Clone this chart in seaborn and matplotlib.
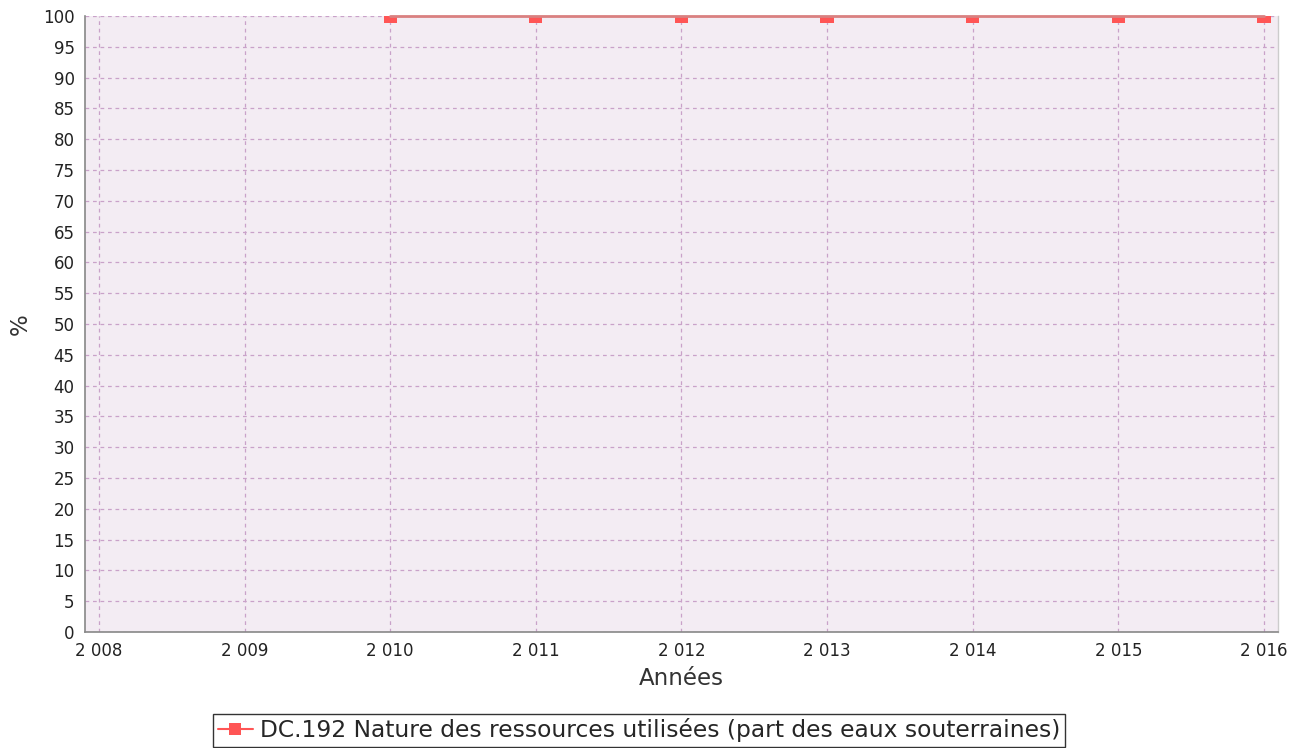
import matplotlib
matplotlib.use("Agg")
import matplotlib.pyplot as plt
import seaborn as sns
import pandas as pd
from matplotlib.lines import Line2D

years = [2010, 2011, 2012, 2013, 2014, 2015, 2016]
values = [100, 100, 100, 100, 100, 100, 100]
series_name = "DC.192 Nature des ressources utilisées (part des eaux souterraines)"
x_ticks = [2008, 2009, 2010, 2011, 2012, 2013, 2014, 2015, 2016]
x_tick_labels = ["2 008", "2 009", "2 010", "2 011", "2 012", "2 013", "2 014", "2 015", "2 016"]
y_ticks = list(range(0, 101, 5))

sns.set_style("white")
plt.rcParams['font.family'] = ['DejaVu Sans']

df = pd.DataFrame({"Années": years, "%": values, "serie": series_name})
red = "#ff5555"

fig = plt.figure(figsize=(13.04, 7.48), dpi=100)
ax = fig.add_axes([0.0652, 0.155, 0.9148, 0.8236])
ax.set_facecolor("#f3ecf3")

sns.lineplot(data=df, x="Années", y="%", hue="serie", palette=["#d98080"],
             linewidth=2.0, ax=ax, legend=False)
for ln in ax.lines:
    ln.set_clip_on(False)
    ln.set_zorder(5)
sns.scatterplot(data=df, x="Années", y="%", hue="serie", palette=[red],
                marker="s", s=90, linewidth=0, ax=ax, legend=False, zorder=4)

ax.set_xlim(2007.904, 2016.096)
ax.set_ylim(0, 100)
ax.set_xticks(x_ticks)
ax.set_xticklabels(x_tick_labels)
ax.set_yticks(y_ticks)
ax.grid(True, color="#c9a2c9", linestyle=(0, (3, 3)), linewidth=0.9)
ax.set_axisbelow(True)

for side in ["left", "bottom"]:
    ax.spines[side].set_color("#888888")
    ax.spines[side].set_linewidth(1.2)
ax.spines["right"].set_color("#cccccc")
ax.spines["right"].set_linewidth(1.0)
ax.spines["top"].set_visible(False)

ax.tick_params(axis="both", which="both", direction="out", length=4,
               color="#888888", labelsize=12, labelcolor="#222222", width=1)
ax.set_xlabel("Années", fontsize=16.5, color="#333333", labelpad=5)
ax.set_ylabel("%", fontsize=16.5, color="#333333", labelpad=8)

handle = Line2D([], [], color=red, marker="s", markersize=8,
                markeredgewidth=0, linewidth=1.5)
leg = fig.legend([handle], [series_name], loc="center", bbox_to_anchor=(0.49, 0.0235),
                 frameon=True, fancybox=False, fontsize=16.8, handlelength=1.5,
                 handletextpad=0.3, borderpad=0.2, borderaxespad=0)
leg.get_frame().set_edgecolor("#000000")
leg.get_frame().set_linewidth(1.0)

fig.savefig("out.png", dpi=100)
